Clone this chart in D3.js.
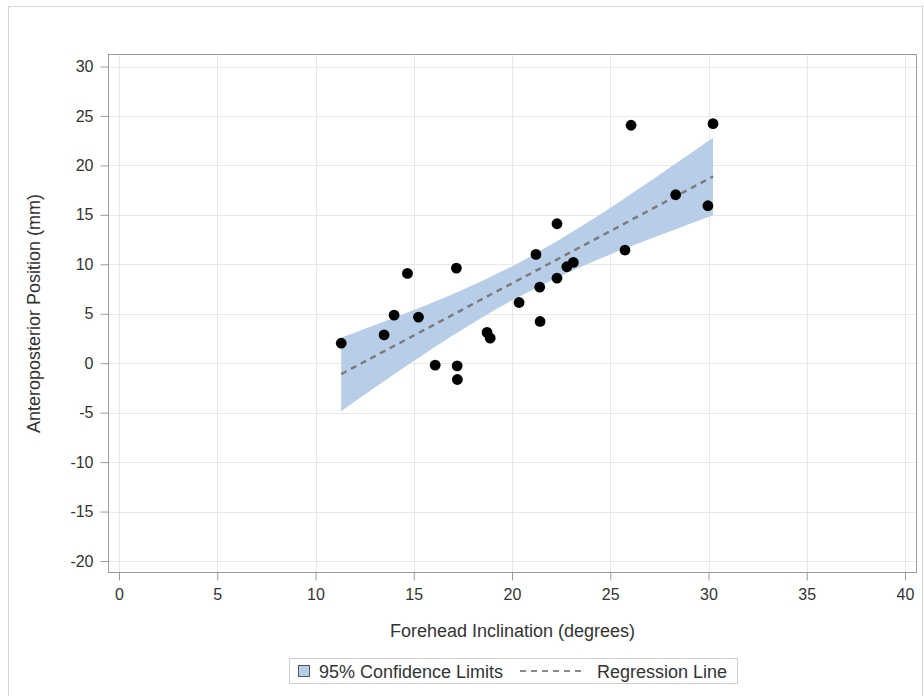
<!DOCTYPE html>
<html>
<head>
<meta charset="utf-8">
<script src="https://cdn.jsdelivr.net/npm/d3@7"></script>
<style>
  body { margin: 0; background: #fff; }
  svg { font-family: "Liberation Sans", Arial, sans-serif; }
</style>
</head>
<body>
<svg id="chart" width="924" height="696"></svg>
<script>
// Observations: forehead inclination (deg) vs anteroposterior position (mm)
var inclination = [11.31, 13.49, 14.0, 14.68, 15.24, 16.09, 17.17, 17.21, 17.22, 18.73, 18.89, 20.36,
                   21.22, 21.41, 21.43, 22.29, 22.29, 22.79, 23.12, 25.75, 26.06, 28.33, 29.97, 30.23];
var position    = [2.02, 2.86, 4.86, 9.08, 4.66, -0.20, 9.62, -0.27, -1.65, 3.11, 2.53, 6.14,
                   11.0, 7.69, 4.22, 14.10, 8.60, 9.75, 10.19, 11.44, 24.06, 17.03, 15.92, 24.22];

// Fitted line and 95% confidence band
var fitX     = [11.31, 13, 15, 17, 19, 20.4, 22, 24, 26, 28, 30.23];
var fitY     = [-1.10, 0.69, 2.80, 4.91, 7.03, 8.49, 10.18, 12.29, 14.41, 16.52, 18.88];
var clmLower = [-4.85, -2.48, 0.22, 2.82, 5.24, 6.77, 8.37, 10.15, 11.79, 13.30, 14.95];
var clmUpper = [2.60, 3.84, 5.38, 7.00, 8.82, 10.21, 11.99, 14.43, 17.03, 19.73, 22.80];

var xTicks = [0, 5, 10, 15, 20, 25, 30, 35, 40];
var yTicks = [-20, -15, -10, -5, 0, 5, 10, 15, 20, 25, 30];

var svg = d3.select("#chart");

// frame of the plot area
var frame = {left: 108.5, right: 916.5, top: 54.5, bottom: 572.5};

var x = d3.scaleLinear().domain([0, 40]).range([119, 905]);
var y = d3.scaleLinear().domain([-20, 30]).range([561, 66.5]);

// outer border
svg.append("rect")
    .attr("x", 8.5).attr("y", 6.5)
    .attr("width", 914).attr("height", 700)
    .attr("fill", "none")
    .attr("stroke", "#d4d4d4");

// grid
var grid = svg.append("g").attr("stroke", "#e8e8e8").attr("stroke-width", 1);
grid.selectAll(".vg").data(xTicks).enter().append("line")
    .attr("x1", d => Math.round(x(d)) + 0.5).attr("x2", d => Math.round(x(d)) + 0.5)
    .attr("y1", frame.top).attr("y2", frame.bottom);
grid.selectAll(".hg").data(yTicks).enter().append("line")
    .attr("y1", d => Math.round(y(d)) + 0.5).attr("y2", d => Math.round(y(d)) + 0.5)
    .attr("x1", frame.left).attr("x2", frame.right);

// confidence band
var band = fitX.map((d, i) => ({x: d, lo: clmLower[i], hi: clmUpper[i]}));
svg.append("path")
    .datum(band)
    .attr("fill", "#b8cee8")
    .attr("d", d3.area()
        .curve(d3.curveNatural)
        .x(d => x(d.x))
        .y0(d => y(d.lo))
        .y1(d => y(d.hi)));

// regression line
svg.append("path")
    .datum(fitX.map((d, i) => [d, fitY[i]]))
    .attr("fill", "none")
    .attr("stroke", "#7b7b7b")
    .attr("stroke-width", 2.5)
    .attr("stroke-dasharray", "6,5")
    .attr("d", d3.line().x(d => x(d[0])).y(d => y(d[1])));

// points
svg.append("g").selectAll("circle")
    .data(inclination.map((d, i) => [d, position[i]]))
    .enter().append("circle")
    .attr("cx", d => x(d[0]))
    .attr("cy", d => y(d[1]))
    .attr("r", 5.4)
    .attr("fill", "#000");

// frame
svg.append("rect")
    .attr("x", frame.left).attr("y", frame.top)
    .attr("width", frame.right - frame.left).attr("height", frame.bottom - frame.top)
    .attr("fill", "none")
    .attr("stroke", "#9c9c9c");

// plain hyphen for negatives, like the original
var fmt = d => String(d);

// x axis
var xAxis = svg.append("g")
    .attr("transform", "translate(0," + frame.bottom + ")")
    .call(d3.axisBottom(x).tickValues(xTicks).tickFormat(fmt).tickSize(8).tickPadding(8).tickSizeOuter(0));
xAxis.select(".domain").remove();

// y axis
var yAxis = svg.append("g")
    .attr("transform", "translate(" + frame.left + ",0)")
    .call(d3.axisLeft(y).tickValues(yTicks).tickFormat(fmt).tickSize(8).tickPadding(7).tickSizeOuter(0));
yAxis.select(".domain").remove();

svg.selectAll(".tick line").attr("stroke", "#9c9c9c");
svg.selectAll(".tick text")
    .attr("font-family", "Liberation Sans, Arial, sans-serif")
    .attr("font-size", 16)
    .attr("fill", "#333");

// axis titles
svg.append("text")
    .attr("x", (frame.left + frame.right) / 2)
    .attr("y", 637)
    .attr("text-anchor", "middle")
    .attr("font-size", 18)
    .attr("fill", "#333")
    .text("Forehead Inclination (degrees)");

svg.append("text")
    .attr("transform", "translate(40," + (frame.top + frame.bottom) / 2 + ") rotate(-90)")
    .attr("text-anchor", "middle")
    .attr("font-size", 18)
    .attr("fill", "#333")
    .text("Anteroposterior Position (mm)");

// legend
var legend = svg.append("g");
legend.append("rect")
    .attr("x", 289.5).attr("y", 658.5)
    .attr("width", 448).attr("height", 25)
    .attr("fill", "#fff")
    .attr("stroke", "#cfcfcf");
legend.append("rect")
    .attr("x", 298.5).attr("y", 665.5)
    .attr("width", 11).attr("height", 11)
    .attr("fill", "#b8cee8")
    .attr("stroke", "#555");
legend.append("text")
    .attr("x", 319).attr("y", 677.5)
    .attr("font-size", 18).attr("fill", "#333")
    .text("95% Confidence Limits");
legend.append("line")
    .attr("x1", 520).attr("x2", 585)
    .attr("y1", 671).attr("y2", 671)
    .attr("stroke", "#8a8a8a")
    .attr("stroke-width", 2)
    .attr("stroke-dasharray", "6,5");
legend.append("text")
    .attr("x", 597).attr("y", 677.5)
    .attr("font-size", 18).attr("fill", "#333")
    .text("Regression Line");
</script>
</body>
</html>
